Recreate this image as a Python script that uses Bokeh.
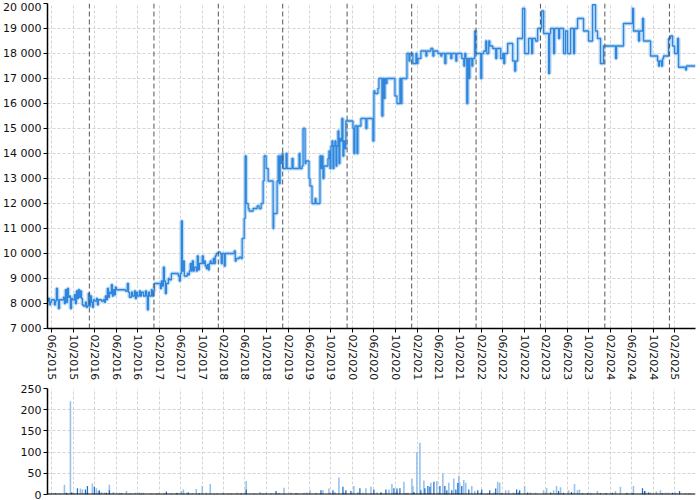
import datetime as dt
from bokeh.plotting import figure
from bokeh.layouts import column
from bokeh.models import Range1d, FixedTicker, DatetimeTickFormatter, Span
from bokeh.embed import file_html
from bokeh.resources import INLINE

# ---------------- data (time as decimal years) ----------------
price_t = [
    2015.350, 2015.365, 2015.381, 2015.396, 2015.412, 2015.458, 2015.474, 2015.489, 2015.505, 2015.520,
    2015.536, 2015.598, 2015.613, 2015.629, 2015.644, 2015.660, 2015.675, 2015.691, 2015.706, 2015.722,
    2015.737, 2015.768, 2015.784, 2015.799, 2015.815, 2015.830, 2015.846, 2015.861, 2015.877, 2015.892,
    2015.908, 2015.939, 2015.954, 2015.970, 2015.985, 2016.001, 2016.016, 2016.032, 2016.047, 2016.063,
    2016.078, 2016.110, 2016.125, 2016.140, 2016.186, 2016.217, 2016.233, 2016.248, 2016.264, 2016.279,
    2016.295, 2016.310, 2016.326, 2016.341, 2016.357, 2016.372, 2016.388, 2016.403, 2016.419, 2016.558,
    2016.589, 2016.605, 2016.620, 2016.651, 2016.667, 2016.698, 2016.713, 2016.729, 2016.744, 2016.775,
    2016.791, 2016.806, 2016.837, 2016.868, 2016.884, 2016.899, 2016.914, 2016.930, 2016.961, 2016.976,
    2016.992, 2017.007, 2017.100, 2017.116, 2017.131, 2017.147, 2017.162, 2017.178, 2017.193, 2017.224,
    2017.240, 2017.271, 2017.379, 2017.395, 2017.410, 2017.426, 2017.441, 2017.457, 2017.472, 2017.519,
    2017.534, 2017.550, 2017.565, 2017.581, 2017.596, 2017.612, 2017.627, 2017.658, 2017.674, 2017.689,
    2017.705, 2017.751, 2017.767, 2017.782, 2017.797, 2017.813, 2017.828, 2017.844, 2017.859, 2017.875,
    2017.890, 2017.921, 2017.937, 2017.952, 2017.968, 2018.000, 2018.029, 2018.045, 2018.061, 2018.092,
    2018.107, 2018.247, 2018.263, 2018.278, 2018.324, 2018.355, 2018.371, 2018.402, 2018.417, 2018.433,
    2018.464, 2018.479, 2018.541, 2018.603, 2018.634, 2018.665, 2018.696, 2018.712, 2018.743, 2018.774,
    2018.851, 2018.860, 2018.913, 2018.929, 2018.944, 2018.960, 2018.975, 2018.991, 2019.006, 2019.052,
    2019.068, 2019.145, 2019.161, 2019.254, 2019.269, 2019.300, 2019.316, 2019.347, 2019.362, 2019.408,
    2019.424, 2019.455, 2019.502, 2019.517, 2019.579, 2019.594, 2019.610, 2019.625, 2019.641, 2019.703,
    2019.718, 2019.734, 2019.749, 2019.765, 2019.780, 2019.796, 2019.811, 2019.827, 2019.842, 2019.858,
    2019.873, 2019.888, 2019.904, 2019.919, 2019.935, 2019.950, 2019.966, 2019.981, 2020.090, 2020.105,
    2020.121, 2020.152, 2020.167, 2020.214, 2020.291, 2020.307, 2020.400, 2020.415, 2020.431, 2020.477,
    2020.493, 2020.539, 2020.555, 2020.570, 2020.586, 2020.601, 2020.617, 2020.741, 2020.772, 2020.818,
    2020.834, 2020.849, 2020.927, 2020.958, 2020.973, 2021.019, 2021.066, 2021.081, 2021.097, 2021.143,
    2021.221, 2021.236, 2021.298, 2021.329, 2021.345, 2021.407, 2021.453, 2021.469, 2021.515, 2021.531,
    2021.608, 2021.624, 2021.686, 2021.701, 2021.779, 2021.810, 2021.825, 2021.841, 2021.856, 2021.872,
    2021.887, 2021.903, 2021.934, 2021.949, 2021.980, 2021.996, 2022.073, 2022.089, 2022.120, 2022.151,
    2022.166, 2022.197, 2022.213, 2022.259, 2022.306, 2022.321, 2022.383, 2022.414, 2022.430, 2022.445,
    2022.491, 2022.569, 2022.600, 2022.615, 2022.646, 2022.724, 2022.755, 2022.817, 2022.863, 2022.879,
    2022.925, 2022.956, 2023.018, 2023.049, 2023.127, 2023.142, 2023.158, 2023.204, 2023.220, 2023.282,
    2023.297, 2023.359, 2023.390, 2023.421, 2023.468, 2023.514, 2023.530, 2023.576, 2023.669, 2023.747,
    2023.809, 2023.855, 2023.886, 2023.933, 2023.979, 2024.165, 2024.181, 2024.289, 2024.429, 2024.444,
    2024.522, 2024.537, 2024.584, 2024.599, 2024.708, 2024.816, 2024.832, 2024.847, 2024.878, 2024.894,
    2024.909, 2024.987, 2025.018, 2025.049, 2025.080, 2025.126, 2025.142, 2025.250, 2025.266, 2025.405,
]
price_v = [
    8100, 8200, 7950, 8050, 8150, 7950, 8100, 8600, 8150, 7800,
    8150, 8250, 8000, 8550, 8050, 8600, 8250, 8300, 7800, 8200,
    8150, 8350, 8000, 8500, 8200, 8550, 8250, 8500, 8200, 7950,
    7900, 8050, 7850, 7900, 8400, 7900, 8300, 8050, 7850, 8150,
    8100, 8200, 7950, 8150, 8100, 8150, 8050, 8300, 8150, 8600,
    8250, 8450, 8400, 8750, 8300, 8550, 8350, 8650, 8550, 8500,
    8800, 8450, 8250, 8450, 8300, 8500, 8200, 8450, 8300, 8500,
    8300, 8450, 8300, 8500, 8300, 7750, 8450, 8300, 8550, 8300,
    8500, 8800, 8600, 8900, 8700, 9450, 8900, 8400, 8800, 9000,
    8950, 9200, 9100, 8900, 9200, 11300, 9300, 9700, 9100, 9200,
    9150, 9300, 9600, 9300, 9700, 9300, 9450, 9300, 9900, 9350,
    9600, 9900, 9600, 9700, 9500, 9400, 9550, 9350, 9600, 9700,
    9600, 9800, 9600, 9900, 10000, 10050, 10000, 9600, 10000, 9500,
    10000, 10100, 9700, 9800, 9850, 9800, 10600, 11400, 13900, 12000,
    11800, 11700, 11800, 11900, 11800, 12000, 12900, 13900, 13400, 12900,
    11000, 11600, 12900, 13900, 12800, 13900, 13600, 14000, 13400, 14000,
    13400, 13800, 13400, 14000, 13400, 13500, 15000, 13600, 13700, 13000,
    12700, 12000, 12200, 12000, 13900, 13400, 13900, 13000, 13500, 13800,
    14100, 13400, 14300, 14500, 13400, 14300, 14500, 13500, 14300, 14900,
    13600, 14600, 14500, 15400, 13900, 14500, 14200, 15300, 15000, 14000,
    15100, 14000, 15100, 15400, 15000, 15400, 14500, 16500, 16400, 16600,
    17000, 15500, 17000, 16200, 17000, 16800, 17000, 16300, 16000, 17000,
    16000, 17000, 18000, 17700, 18000, 17600, 18000, 17600, 17800, 18100,
    17900, 18100, 18200, 17900, 18100, 18000, 17900, 18000, 17600, 18000,
    17800, 18000, 17700, 18000, 17800, 17500, 18000, 17800, 16000, 17800,
    17000, 17800, 17500, 17800, 18900, 18000, 17000, 18000, 18100, 18500,
    18000, 18500, 18300, 18200, 17800, 18200, 17800, 18000, 17600, 18000,
    18400, 17700, 17300, 17700, 18600, 19800, 18000, 18600, 18000, 18600,
    18500, 19000, 19700, 18800, 17200, 18800, 19000, 18000, 19000, 18600,
    19000, 18000, 18900, 18000, 19000, 18000, 19000, 19400, 18900, 18500,
    19950, 18900, 18600, 17600, 18300, 17800, 18300, 19200, 19800, 18900,
    18500, 18900, 19400, 18500, 17900, 17700, 17500, 17700, 17500, 17800,
    17900, 18600, 18700, 18300, 18000, 18600, 17450, 17350, 17500, 17500,
]

vol_light_t = [
    2015.365, 2015.412, 2015.443, 2015.489, 2015.536, 2015.567, 2015.613, 2015.660, 2015.706, 2015.737,
    2015.768, 2015.861, 2015.892, 2015.970, 2016.047, 2016.109, 2016.140, 2016.186, 2016.233, 2016.310,
    2016.372, 2016.465, 2016.574, 2016.651, 2016.713, 2016.775, 2016.837, 2016.961, 2017.069, 2017.162,
    2017.271, 2017.364, 2017.426, 2017.457, 2017.519, 2017.596, 2017.658, 2017.751, 2017.813, 2017.875,
    2017.983, 2018.076, 2018.200, 2018.293, 2018.433, 2018.557, 2018.650, 2018.743, 2018.820, 2018.944,
    2019.021, 2019.130, 2019.238, 2019.331, 2019.377, 2019.424, 2019.517, 2019.625, 2019.718, 2019.811,
    2019.873, 2019.950, 2020.105, 2020.167, 2020.245, 2020.291, 2020.369, 2020.462, 2020.524, 2020.648,
    2020.694, 2020.772, 2020.880, 2020.942, 2021.004, 2021.019, 2021.081, 2021.128, 2021.190, 2021.298,
    2021.391, 2021.484, 2021.577, 2021.654, 2021.732, 2021.747, 2021.809, 2021.840, 2021.933, 2021.980,
    2022.073, 2022.181, 2022.274, 2022.336, 2022.367, 2022.460, 2022.506, 2022.584, 2022.661, 2022.754,
    2022.847, 2022.925, 2023.049, 2023.096, 2023.204, 2023.250, 2023.312, 2023.436, 2023.529, 2023.575,
    2023.606, 2023.777, 2023.885, 2024.009, 2024.164, 2024.241, 2024.350, 2024.443, 2024.629, 2024.706,
    2024.799, 2024.861, 2024.939, 2024.985, 2025.094, 2025.249, 2025.326,
]
vol_light_v = [
    2, 3, 3, 2, 3, 2, 23, 3, 220, 4,
    3, 14, 12, 6, 26, 15, 8, 6, 5, 23,
    6, 4, 8, 3, 4, 5, 4, 3, 3, 3,
    3, 4, 8, 12, 4, 3, 13, 20, 4, 25,
    3, 4, 3, 4, 32, 3, 6, 4, 3, 4,
    16, 4, 3, 4, 5, 10, 4, 10, 14, 6,
    40, 5, 20, 6, 4, 15, 18, 5, 6, 12,
    25, 8, 30, 4, 38, 20, 100, 122, 33, 28,
    32, 50, 28, 38, 44, 28, 34, 28, 20, 8,
    5, 3, 5, 30, 28, 10, 10, 5, 6, 20,
    5, 4, 10, 15, 10, 20, 17, 10, 25, 10,
    12, 4, 8, 3, 8, 18, 4, 20, 8, 5,
    7, 10, 4, 5, 5, 3, 3,
]
vol_dark_t = [
    2015.381, 2015.474, 2015.644, 2015.722, 2015.815, 2015.939, 2015.970, 2016.078, 2016.155, 2016.264,
    2016.310, 2016.496, 2016.620, 2016.806, 2017.038, 2017.193, 2017.348, 2017.534, 2017.704, 2017.937,
    2018.154, 2018.355, 2018.433, 2018.696, 2018.897, 2019.207, 2019.594, 2019.780, 2019.935, 2019.981,
    2020.059, 2020.198, 2020.415, 2020.524, 2020.601, 2020.725, 2020.772, 2020.818, 2020.911, 2021.035,
    2021.143, 2021.205, 2021.252, 2021.283, 2021.345, 2021.438, 2021.515, 2021.546, 2021.623, 2021.686,
    2021.717, 2021.778, 2021.887, 2022.026, 2022.088, 2022.212, 2022.305, 2022.398, 2022.630, 2022.677,
    2022.801, 2023.157, 2023.281, 2023.358, 2023.482, 2023.653, 2023.730, 2023.931, 2024.024, 2024.117,
    2024.334, 2024.428, 2024.583, 2024.614, 2024.676, 2024.893, 2025.048, 2025.157, 2025.296,
]
vol_dark_v = [
    2, 3, 4, 5, 15, 12, 20, 18, 10, 4,
    10, 3, 2, 2, 2, 7, 3, 5, 3, 2,
    2, 3, 12, 2, 8, 3, 10, 10, 18, 10,
    8, 15, 12, 4, 12, 15, 14, 15, 3, 6,
    10, 15, 20, 18, 30, 20, 20, 10, 10, 12,
    27, 20, 12, 10, 12, 10, 14, 3, 12, 10,
    5, 5, 8, 4, 6, 3, 3, 3, 3, 4,
    3, 3, 15, 8, 5, 3, 4, 8, 2,
]

x_tick_labels = [
    "06/2015", "10/2015", "02/2016", "06/2016", "10/2016", "02/2017", "06/2017", "10/2017",
    "02/2018", "06/2018", "10/2018", "02/2019", "06/2019", "10/2019", "02/2020", "06/2020",
    "10/2020", "02/2021", "06/2021", "10/2021", "02/2022", "06/2022", "10/2022", "02/2023",
    "06/2023", "10/2023", "02/2024", "06/2024", "10/2024", "02/2025",
]
year_marks = [2016, 2017, 2018, 2019, 2020, 2021, 2022, 2023, 2024, 2025]
price_ticks = [7000, 8000, 9000, 10000, 11000, 12000, 13000, 14000, 15000, 16000, 17000, 18000, 19000, 20000]
vol_ticks = [0, 50, 100, 150, 200, 250]
x_start, x_end = 2015.350, 2025.405

# ---------------- helpers ----------------
EPOCH = dt.datetime(1970, 1, 1)


def to_ms(y):
    yr = int(y)
    a = dt.datetime(yr, 1, 1)
    b = dt.datetime(yr + 1, 1, 1)
    d = a + (b - a) * (y - yr)
    return (d - EPOCH).total_seconds() * 1000.0


def label_ms(lbl):
    m, y = lbl.split("/")
    return (dt.datetime(int(y), int(m), 1) - EPOCH).total_seconds() * 1000.0


FONT = "DejaVu Sans"
GRID = "#d4d4d4"
LINE = "#2f86dc"
HALO = "#b8d8f5"
LIGHT = "#8dbbea"
DARK = "#1f70d0"

x_ms_ticks = [label_ms(l) for l in x_tick_labels]
fmt = "%m/%Y"
dtf = DatetimeTickFormatter(
    microseconds=fmt, milliseconds=fmt, seconds=fmt, minsec=fmt, minutes=fmt,
    hourmin=fmt, hours=fmt, days=fmt, months=fmt, years=fmt,
)

xr = Range1d(to_ms(x_start), to_ms(x_end))


def style(p):
    p.outline_line_color = None
    p.background_fill_color = "white"
    p.border_fill_color = "white"
    for ax in p.axis:
        ax.axis_line_color = "black"
        ax.axis_line_width = 1.5
        ax.major_tick_line_color = "black"
        ax.minor_tick_line_color = None
        ax.major_tick_in = 0
        ax.major_tick_out = 4
        ax.major_label_standoff = 2
        ax.major_label_text_font = FONT
        ax.major_label_text_font_size = "11px"
        ax.major_label_text_color = "#111111"
    for g in p.grid:
        g.grid_line_color = GRID
        g.grid_line_dash = "3 2"
        g.grid_line_width = 1


# ---------------- top: price ----------------
p1 = figure(width=700, height=383, x_axis_type="datetime", x_range=xr,
            y_range=Range1d(7000, 20000), output_backend="svg",
            toolbar_location=None, min_border_left=46, min_border_right=5,
            min_border_top=3, min_border_bottom=52)
style(p1)
p1.xaxis.ticker = FixedTicker(ticks=x_ms_ticks)
p1.xaxis.formatter = dtf
p1.xaxis.major_label_orientation = "vertical"
p1.xgrid.ticker = FixedTicker(ticks=x_ms_ticks)
p1.yaxis.ticker = FixedTicker(ticks=price_ticks)
p1.yaxis.major_label_overrides = {v: f"{v:,}".replace(",", " ") for v in price_ticks}

for yr in year_marks:
    p1.add_layout(Span(location=to_ms(yr), dimension="height", line_color="#555555",
                       line_dash="5 3", line_width=1))

px = [to_ms(t) for t in price_t]
p1.step(px, price_v, mode="after", line_color=HALO, line_width=4, line_alpha=0.9)
p1.step(px, price_v, mode="after", line_color=LINE, line_width=1.3)

# ---------------- bottom: volume ----------------
p2 = figure(width=700, height=117, x_axis_type="datetime", x_range=xr,
            y_range=Range1d(0, 250), output_backend="svg",
            toolbar_location=None, min_border_left=46, min_border_right=5,
            min_border_top=5, min_border_bottom=6)
style(p2)
p2.xaxis.visible = False
p2.xgrid.ticker = FixedTicker(ticks=x_ms_ticks)
p2.yaxis.ticker = FixedTicker(ticks=vol_ticks)

bar_w = 9 * 86400000
p2.vbar(x=[to_ms(t) for t in vol_light_t], top=vol_light_v, width=bar_w,
        fill_color=LIGHT, line_color=None, fill_alpha=0.9)
p2.vbar(x=[to_ms(t) for t in vol_dark_t], top=vol_dark_v, width=bar_w * 0.8,
        fill_color=DARK, line_color=None)
p2.add_layout(Span(location=0, dimension="width", line_color="black", line_width=2))

layout = column(p1, p2, spacing=0)

open("out.html", "w").write(file_html(layout, INLINE))
